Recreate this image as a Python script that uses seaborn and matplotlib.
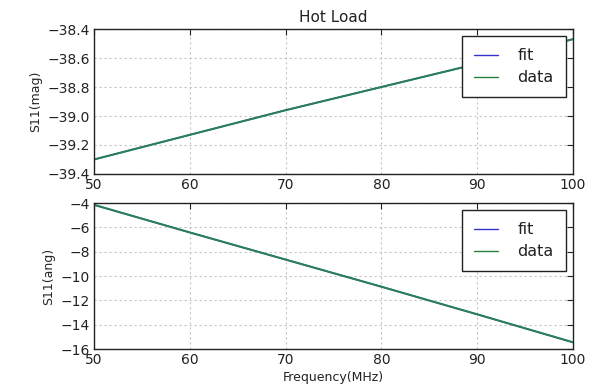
import matplotlib
matplotlib.use("Agg")
import matplotlib.pyplot as plt
import seaborn as sns
import pandas as pd

freq = [50, 60, 70, 80, 90, 100]
mag_fit = [-39.30, -39.13, -38.96, -38.80, -38.64, -38.47]
mag_data = [-39.30, -39.13, -38.96, -38.80, -38.64, -38.47]
ang_fit = [-4.15, -6.42, -8.65, -10.88, -13.15, -15.45]
ang_data = [-4.15, -6.42, -8.65, -10.88, -13.15, -15.45]

sns.set_style("white")
plt.rcParams['font.family'] = ['DejaVu Sans']

fig = plt.figure(figsize=(5.96, 3.91), dpi=100)
ax1 = fig.add_axes([0.1577, 0.555, 0.8037, 0.3708])
ax2 = fig.add_axes([0.1577, 0.1074, 0.8037, 0.3734])

def style(ax, yticks, ylim, ylabel):
    ax.set_xlim(50, 100)
    ax.set_ylim(*ylim)
    ax.set_xticks([50, 60, 70, 80, 90, 100])
    ax.set_yticks(yticks)
    ax.grid(True, linestyle=(0, (2, 2.5)), color='#c4c4c4', linewidth=0.8)
    for s in ax.spines.values():
        s.set_color('#222222')
        s.set_linewidth(1.0)
    ax.tick_params(direction='in', top=True, right=True, length=4, width=0.8,
                   labelsize=10, colors='#222222', pad=3)
    ax.set_ylabel(ylabel, fontsize=9, labelpad=4)
    leg = ax.legend(loc='upper right', fontsize=11.5, frameon=True, fancybox=False,
                    framealpha=1.0, borderaxespad=0.45, handlelength=1.5,
                    handletextpad=1.2, borderpad=0.75, labelspacing=0.45)
    leg.get_frame().set_edgecolor('#222222')
    leg.get_frame().set_linewidth(1.0)
    for t in leg.get_texts():
        t.set_color('#222222')
    for ln in leg.get_lines():
        ln.set_linewidth(1.0)

df1 = pd.DataFrame({'f': freq, 'fit': mag_fit, 'data': mag_data})
df2 = pd.DataFrame({'f': freq, 'fit': ang_fit, 'data': ang_data})

for ax, df in [(ax1, df1), (ax2, df2)]:
    sns.lineplot(data=df, x='f', y='fit', ax=ax, color='#3333cc', linewidth=1.0, label='fit')
    sns.lineplot(data=df, x='f', y='data', ax=ax, color='#2a7d5e', linewidth=1.5, label='data')
    ax.set_xlabel('')

style(ax1, [-39.4, -39.2, -39.0, -38.8, -38.6, -38.4], (-39.4, -38.4), 'S11(mag)')
style(ax2, [-16, -14, -12, -10, -8, -6, -4], (-16, -4), 'S11(ang)')
ax1.set_yticklabels(['\u221239.4', '\u221239.2', '\u221239.0', '\u221238.8', '\u221238.6', '\u221238.4'])
for ax in (ax1, ax2):
    lines = ax.get_legend().get_lines()
    lines[0].set_color('#3333cc')
    lines[1].set_color('#2a7d3a')
ax1.set_title('Hot Load', fontsize=11, pad=5, color='#222222')
ax2.set_xlabel('Frequency(MHz)', fontsize=9, labelpad=3, color='#222222')

fig.savefig('out.png', dpi=100)
